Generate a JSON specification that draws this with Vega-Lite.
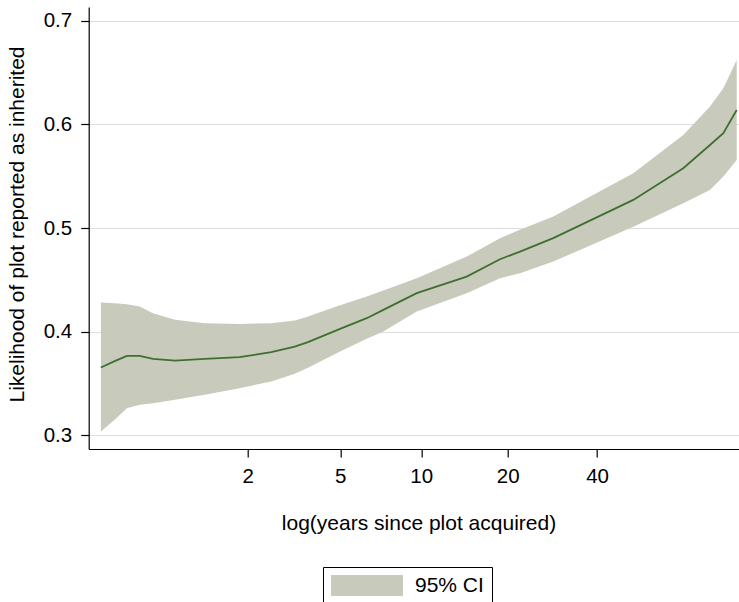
{
  "$schema": "https://vega.github.io/schema/vega-lite/v6.json",
  "width": 650,
  "height": 442,
  "autosize": {"type": "none"},
  "padding": {"left": 88.7, "top": 7, "right": 0.3, "bottom": 153},
  "background": "white",
  "config": {"view": {"stroke": null}, "font": "Liberation Sans"},
  "data": {
    "values": [
      {"lx": 0.000, "lo": 0.3037, "mean": 0.3654, "hi": 0.4281, "series": "95% CI"},
      {"lx": 0.103, "lo": 0.3149, "mean": 0.3716, "hi": 0.4273, "series": "95% CI"},
      {"lx": 0.195, "lo": 0.3262, "mean": 0.3767, "hi": 0.4265, "series": "95% CI"},
      {"lx": 0.290, "lo": 0.3294, "mean": 0.3767, "hi": 0.4242, "series": "95% CI"},
      {"lx": 0.390, "lo": 0.3309, "mean": 0.3738, "hi": 0.4178, "series": "95% CI"},
      {"lx": 0.555, "lo": 0.3342, "mean": 0.3721, "hi": 0.4114, "series": "95% CI"},
      {"lx": 0.777, "lo": 0.3391, "mean": 0.3738, "hi": 0.4082, "series": "95% CI"},
      {"lx": 1.037, "lo": 0.3455, "mean": 0.3754, "hi": 0.4075, "series": "95% CI"},
      {"lx": 1.275, "lo": 0.3519, "mean": 0.3802, "hi": 0.4082, "series": "95% CI"},
      {"lx": 1.451, "lo": 0.3593, "mean": 0.3856, "hi": 0.4107, "series": "95% CI"},
      {"lx": 1.550, "lo": 0.3651, "mean": 0.3899, "hi": 0.4146, "series": "95% CI"},
      {"lx": 1.790, "lo": 0.3809, "mean": 0.4027, "hi": 0.4255, "series": "95% CI"},
      {"lx": 1.990, "lo": 0.3931, "mean": 0.4130, "hi": 0.4338, "series": "95% CI"},
      {"lx": 2.114, "lo": 0.4001, "mean": 0.4210, "hi": 0.4398, "series": "95% CI"},
      {"lx": 2.364, "lo": 0.4194, "mean": 0.4371, "hi": 0.4516, "series": "95% CI"},
      {"lx": 2.738, "lo": 0.4371, "mean": 0.4531, "hi": 0.4724, "series": "95% CI"},
      {"lx": 2.987, "lo": 0.4516, "mean": 0.4699, "hi": 0.4902, "series": "95% CI"},
      {"lx": 3.137, "lo": 0.4564, "mean": 0.4772, "hi": 0.4982, "series": "95% CI"},
      {"lx": 3.386, "lo": 0.4676, "mean": 0.4902, "hi": 0.5110, "series": "95% CI"},
      {"lx": 3.985, "lo": 0.5013, "mean": 0.5271, "hi": 0.5528, "series": "95% CI"},
      {"lx": 4.359, "lo": 0.5239, "mean": 0.5577, "hi": 0.5898, "series": "95% CI"},
      {"lx": 4.559, "lo": 0.5367, "mean": 0.5801, "hi": 0.6171, "series": "95% CI"},
      {"lx": 4.659, "lo": 0.5496, "mean": 0.5914, "hi": 0.6348, "series": "95% CI"},
      {"lx": 4.759, "lo": 0.5657, "mean": 0.6139, "hi": 0.6621, "series": "95% CI"}
    ]
  },
  "encoding": {
    "x": {
      "field": "lx",
      "type": "quantitative",
      "scale": {"domain": [-0.0913, 4.774], "nice": false, "zero": false},
      "axis": {
        "title": "log(years since plot acquired)",
        "values": [1.0986, 1.7918, 2.3979, 3.0445, 3.7136],
        "labelExpr": "format(exp(datum.value) - 1, '.0f')",
        "grid": false,
        "domainColor": "black",
        "domainWidth": 1.2,
        "tickColor": "black",
        "tickSize": 8,
        "tickWidth": 1.2,
        "labelFont": "Liberation Sans",
        "labelFontSize": 20.5,
        "labelColor": "black",
        "labelBaseline": "alphabetic",
        "labelPadding": 25,
        "labelOverlap": false,
        "labelFlush": false,
        "titleFont": "Liberation Sans",
        "titleFontSize": 21,
        "titleFontWeight": "normal",
        "titleColor": "black",
        "titleX": 329.8,
        "titleY": 80,
        "titleAlign": "center",
        "titleBaseline": "alphabetic"
      }
    }
  },
  "layer": [
    {
      "mark": {"type": "area", "opacity": 1},
      "encoding": {
        "y": {
          "field": "lo",
          "type": "quantitative",
          "scale": {"domain": [0.2868, 0.7132], "nice": false, "zero": false},
          "axis": {
            "title": "Likelihood of plot reported as inherited",
            "values": [0.3, 0.4, 0.5, 0.6, 0.7],
            "format": ".1f",
            "grid": true,
            "gridColor": "#dcdcdc",
            "gridWidth": 1.2,
            "domainColor": "black",
            "domainWidth": 1.2,
            "tickColor": "black",
            "tickSize": 8,
            "tickWidth": 1.2,
            "labelFont": "Liberation Sans",
            "labelFontSize": 20.5,
            "labelColor": "black",
            "labelPadding": 9,
            "labelOverlap": false,
            "labelFlush": false,
            "titleFont": "Liberation Sans",
            "titleFontSize": 21,
            "titleFontWeight": "normal",
            "titleColor": "black",
            "titleAngle": -90,
            "titleX": -65.4,
            "titleY": 217,
            "titleAlign": "center",
            "titleBaseline": "alphabetic"
          }
        },
        "y2": {"field": "hi"},
        "color": {
          "field": "series",
          "type": "nominal",
          "scale": {"range": ["#c8cbbb"]},
          "legend": {
            "orient": "none",
            "legendX": 234.3,
            "legendY": 560,
            "title": null,
            "symbolType": "M-1,-1H5.857V1H-1Z",
            "symbolSize": 441,
            "symbolStrokeWidth": 0,
            "symbolOpacity": 1,
            "labelFont": "Liberation Sans",
            "labelFontSize": 21,
            "labelColor": "black",
            "labelOffset": 63,
            "padding": 8,
            "strokeColor": "black",
            "fillColor": "white",
            "cornerRadius": 0
          }
        }
      }
    },
    {
      "mark": {"type": "line", "color": "#3e6f2f", "strokeWidth": 1.8},
      "encoding": {
        "y": {
          "field": "mean",
          "type": "quantitative",
          "axis": {
            "title": "Likelihood of plot reported as inherited",
            "values": [0.3, 0.4, 0.5, 0.6, 0.7],
            "format": ".1f",
            "grid": true,
            "gridColor": "#dcdcdc",
            "gridWidth": 1.2,
            "domainColor": "black",
            "domainWidth": 1.2,
            "tickColor": "black",
            "tickSize": 8,
            "tickWidth": 1.2,
            "labelFont": "Liberation Sans",
            "labelFontSize": 20.5,
            "labelColor": "black",
            "labelPadding": 9,
            "labelOverlap": false,
            "labelFlush": false,
            "titleFont": "Liberation Sans",
            "titleFontSize": 21,
            "titleFontWeight": "normal",
            "titleColor": "black",
            "titleAngle": -90,
            "titleX": -65.4,
            "titleY": 217,
            "titleAlign": "center",
            "titleBaseline": "alphabetic"
          }
        }
      }
    }
  ]
}
